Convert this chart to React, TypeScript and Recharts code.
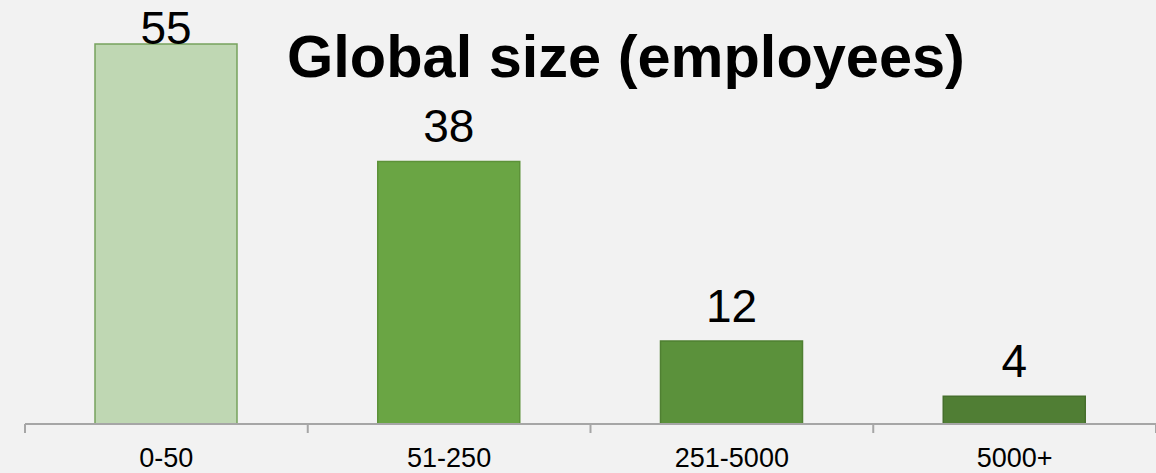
import { BarChart, Bar, XAxis, YAxis, Cell, LabelList } from 'recharts';

const categories = ['0-50', '51-250', '251-5000', '5000+'];
const counts = [55, 38, 12, 4];
const fills = ['#bfd7b3', '#6aa544', '#5b913b', '#507e34'];
const strokes = ['#77a35e', '#5d9239', '#4f8032', '#466f2d'];

const data = categories.map((c, i) => ({ name: c, value: counts[i] }));

const FONT = '"Liberation Sans", Arial, sans-serif';

function BoundaryTick(props: any) {
  const { x, y, payload, index } = props;
  const half = payload && payload.offset ? payload.offset : 1131 / 8;
  return (
    <g>
      <line x1={x - half} x2={x - half} y1={y - 9} y2={y} stroke="#a6a6a6" strokeWidth={2} />
      {index === categories.length - 1 && (
        <line x1={x + half} x2={x + half} y1={y - 9} y2={y} stroke="#a6a6a6" strokeWidth={2} />
      )}
      <text x={x} y={y + 34} textAnchor="middle" fontSize={27} fill="#000" fontFamily={FONT}>
        {payload.value}
      </text>
    </g>
  );
}

function ValueLabel(props: any) {
  const { x, y, width, value } = props;
  const ty = Math.max(y - 19, 44);
  return (
    <text x={x + width / 2} y={ty} textAnchor="middle" fontSize={46} fill="#000" fontFamily={FONT}>
      {value}
    </text>
  );
}

export default function App() {
  return (
    <div style={{ position: 'absolute', left: 0, top: 0, width: 1156, height: 473, background: '#f2f2f2' }}>
      <BarChart
        width={1156}
        height={473}
        data={data}
        margin={{ top: 44, right: 0, bottom: 0, left: 25 }}
        barCategoryGap="25%"
      >
        <XAxis
          dataKey="name"
          height={49}
          tickLine={false}
          tickSize={9}
          tickMargin={0}
          axisLine={{ stroke: '#a6a6a6', strokeWidth: 2 }}
          tick={<BoundaryTick />}
          interval={0}
        />
        <YAxis hide domain={[0, 55]} />
        <Bar dataKey="value" barSize={142} isAnimationActive={false}>
          {data.map((_, i) => (
            <Cell key={i} fill={fills[i]} stroke={strokes[i]} strokeWidth={1.5} />
          ))}
          <LabelList dataKey="value" content={<ValueLabel />} />
        </Bar>
      </BarChart>
      <div
        style={{
          position: 'absolute',
          left: 0,
          top: 27,
          width: 1252,
          textAlign: 'center',
          fontFamily: FONT,
          fontWeight: 'bold',
          fontSize: 59.5,
          lineHeight: '60px',
          color: '#000',
          whiteSpace: 'nowrap',
        }}
      >
        Global size (employees)
      </div>
    </div>
  );
}
